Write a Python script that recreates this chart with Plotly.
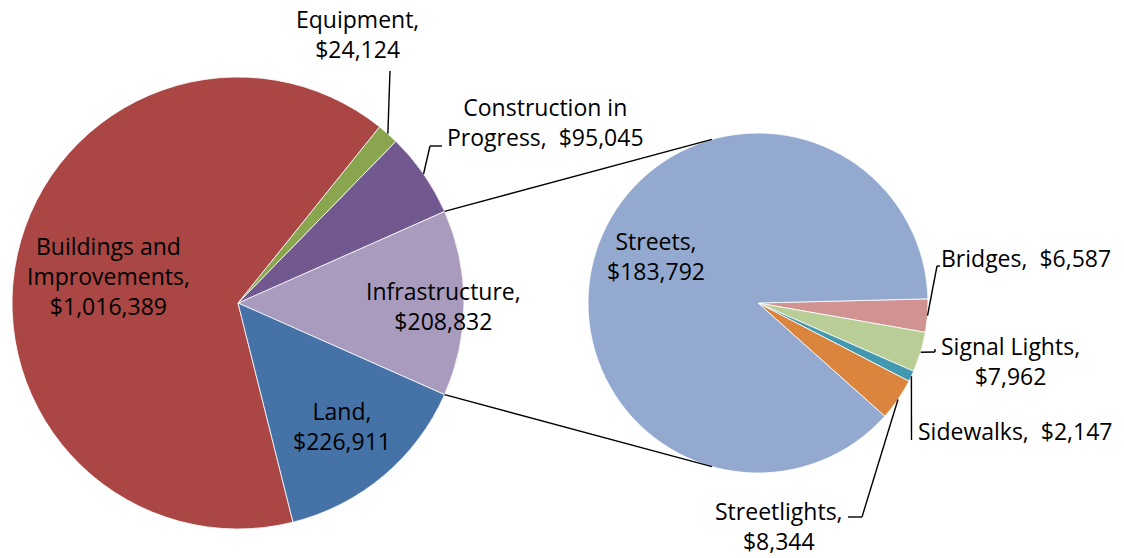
import math
import plotly.graph_objects as go

W, H = 1124, 558

# ---- data ----
main_labels = ["Infrastructure", "Construction in Progress", "Equipment",
               "Buildings and Improvements", "Land"]
main_values = [208832, 95045, 24124, 1016389, 226911]
main_colors = ["#A99BBD", "#71588F", "#89A54E", "#AA4643", "#4572A7"]

sub_labels = ["Bridges", "Signal Lights", "Sidewalks", "Streetlights", "Streets"]
sub_values = [6587, 7962, 2147, 8344, 183792]
sub_colors = ["#D19392", "#B9CD96", "#4198AF", "#DB843D", "#93A9CF"]

# label text pieces (name part, separator before value)
main_names = ["Infrastructure,", "Construction in<br>Progress,", "Equipment,",
              "Buildings and<br>Improvements,", "Land,"]
main_seps = ["<br>", "\u00a0\u00a0", "<br>", "<br>", "<br>"]
sub_names = ["Bridges,", "Signal Lights,", "Sidewalks,", "Streetlights,", "Streets,"]
sub_seps = ["\u00a0\u00a0", "<br>", "\u00a0\u00a0", "<br>", "<br>"]

# ---- layout geometry (pixels) ----
c1, r1 = (238, 303), 226
c2, r2 = (758, 303), 170
sub_start = 1.4          # degrees above east where first small slice starts
conn_angle = 105.7       # where connector lines meet the second pie

FONT = "Open Sans"
FS = 23


def px(x):
    return x / W


def py(y):
    return 1 - y / H


def pt(c, r, ang):
    a = math.radians(ang)
    return (c[0] + r * math.cos(a), c[1] - r * math.sin(a))


tot1 = sum(main_values)
tot2 = sum(sub_values)
half = main_values[0] / tot1 * 180.0
main_start = -half  # math angle, CCW

# slice mid-angles
main_mid = []
a = main_start
for v in main_values:
    s = v / tot1 * 360
    main_mid.append(a + s / 2)
    a += s
sub_mid = []
a = sub_start
for v in sub_values:
    s = v / tot2 * 360
    sub_mid.append(a - s / 2)
    a -= s

fig = go.Figure()
# counterclockwise pies: plotly's rotation marks the CCW-most edge of slice 1
fig.add_trace(go.Pie(
    labels=main_labels, values=main_values, sort=False,
    direction="counterclockwise", rotation=90 - half,
    marker=dict(colors=main_colors, line=dict(color="white", width=0.8)),
    textinfo="none", hoverinfo="label+value", showlegend=False,
    domain=dict(x=[px(c1[0] - r1), px(c1[0] + r1)],
                y=[py(c1[1] + r1), py(c1[1] - r1)]),
))
fig.add_trace(go.Pie(
    labels=sub_labels, values=sub_values, sort=False,
    direction="clockwise", rotation=90 - sub_start,
    marker=dict(colors=sub_colors, line=dict(color="white", width=0.8)),
    textinfo="none", hoverinfo="label+value", showlegend=False,
    domain=dict(x=[px(c2[0] - r2), px(c2[0] + r2)],
                y=[py(c2[1] + r2), py(c2[1] - r2)]),
))

shapes = []


def line(pts):
    for (xa, ya), (xb, yb) in zip(pts[:-1], pts[1:]):
        shapes.append(dict(type="line", xref="paper", yref="paper",
                           x0=px(xa), y0=py(ya), x1=px(xb), y1=py(yb),
                           line=dict(color="black", width=1.4)))


# connector lines between pies
line([pt(c1, r1, half), pt(c2, r2, conn_angle)])
line([pt(c1, r1, -half), pt(c2, r2, -conn_angle)])

# leader lines (anchored at slice mid-angle on the rim)
line([pt(c1, r1, main_mid[2]), (390, 71)])                       # Equipment
line([pt(c1, r1, main_mid[1]), (430, 146), (442, 146)])          # Construction
line([pt(c2, r2, sub_mid[0]), (937, 266), (940, 266)])           # Bridges
line([pt(c2, r2, sub_mid[1]), (935, 352), (935, 349)])           # Signal Lights
line([pt(c2, r2, sub_mid[2]), (911.5, 440)])                     # Sidewalks
line([pt(c2, r2, sub_mid[3]), (862, 517), (848, 517)])           # Streetlights

# label placement (pixels): x, y, xanchor
main_pos = [(443, 306, "center"), (545, 122, "center"), (357, 34, "center"),
            (108, 276, "center"), (342, 426, "center")]
sub_pos = [(939, 258, "left"), (1010, 361, "center"), (916, 431, "left"),
           (779, 526, "center"), (656, 256, "center")]

annotations = []
for names, seps, vals, pos in [(main_names, main_seps, main_values, main_pos),
                               (sub_names, sub_seps, sub_values, sub_pos)]:
    for n, s, v, (x, y, xa) in zip(names, seps, vals, pos):
        annotations.append(dict(
            text=f"{n}{s}${v:,}", x=px(x), y=py(y), xref="paper", yref="paper",
            xanchor=xa, yanchor="middle", showarrow=False, align="center",
            font=dict(family=FONT, size=FS, color="black")))

fig.update_layout(
    width=W, height=H, margin=dict(l=0, r=0, t=0, b=0, pad=0),
    paper_bgcolor="white", plot_bgcolor="white",
    shapes=shapes, annotations=annotations, showlegend=False,
)

fig.write_html("out.html",
               config={"displayModeBar": False},
               post_script="document.body.style.margin='0';"
                           "document.body.style.overflow='hidden';")
